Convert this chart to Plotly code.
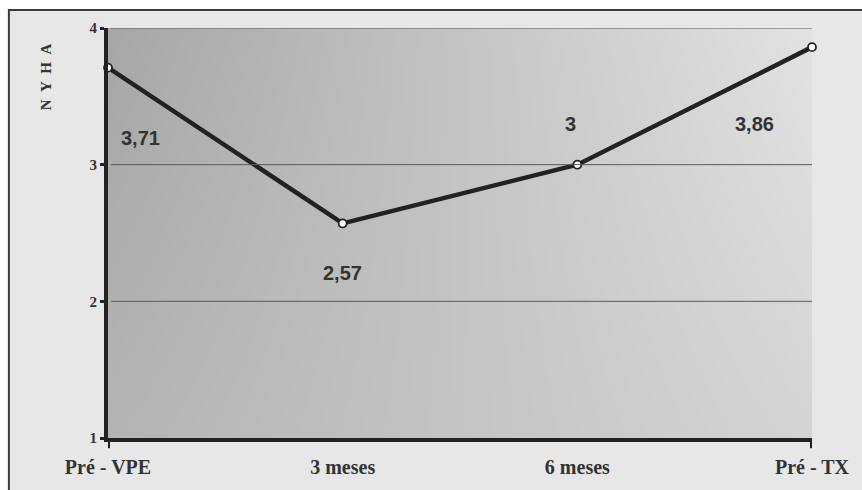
import plotly.graph_objects as go

categories = ["Pré - VPE", "3 meses", "6 meses", "Pré - TX"]
nyha = [3.71, 2.57, 3.0, 3.86]
value_labels = ["3,71", "2,57", "3", "3,86"]
y_ticks = [1, 2, 3, 4]

# label offsets (pixels) relative to each point
label_dx = [32, 0, -7, -58]
label_dy = [-70, -50, 41, -77]

xpos = list(range(len(categories)))

fig = go.Figure()

# gradient background of the plot area (grey levels at corners)
fig.add_trace(go.Heatmap(
    x=[0, 3], y=[1, 4],
    z=[[180, 212], [166, 226]],
    zmin=0, zmax=255, zsmooth="best",
    colorscale=[[0, "rgb(0,0,0)"], [1, "rgb(255,255,255)"]],
    showscale=False, hoverinfo="skip",
))

fig.add_trace(go.Scatter(
    x=xpos, y=nyha, mode="lines+markers",
    line=dict(color="#222222", width=4.5),
    marker=dict(size=8, color="white", line=dict(color="#222222", width=1.8)),
    cliponaxis=False, hoverinfo="skip",
))

for i, (v, t) in enumerate(zip(nyha, value_labels)):
    fig.add_annotation(
        x=xpos[i], y=v, text="<b>" + t + "</b>", showarrow=False,
        xshift=label_dx[i], yshift=label_dy[i],
        font=dict(family="Liberation Sans, Arial", size=20, color="#333333"),
    )

# y title
fig.add_annotation(
    xref="paper", yref="paper", x=-0.0887, y=0.881, xanchor="center", yanchor="middle",
    text="<b>N\u2002Y\u2002H\u2002A</b>", textangle=-90, showarrow=False,
    font=dict(family="Liberation Serif", size=15, color="#333333"),
)

shapes = [
    # framed panel
    dict(type="rect", xref="paper", yref="paper", x0=-0.1408, x1=1.08, y0=-0.14, y1=1.0437,
         line=dict(color="#3a3a3a", width=2), fillcolor="#e7e7e7", layer="below"),
    # x-axis end ticks
    dict(type="line", xref="x", yref="paper", x0=0, x1=0, y0=0, y1=-0.025,
         line=dict(color="#222222", width=4)),
    dict(type="line", xref="x", yref="paper", x0=3, x1=3, y0=0, y1=-0.025,
         line=dict(color="#222222", width=4)),
]
# horizontal gridlines drawn over the gradient
for t in y_ticks[1:]:
    shapes.append(dict(type="line", xref="paper", yref="y", x0=0.004, x1=1, y0=t, y1=t,
                       line=dict(color="#5a5a5a", width=1), layer="above"))

fig.update_layout(
    width=862, height=490,
    margin=dict(l=108, r=44, t=28, b=50),
    paper_bgcolor="white", plot_bgcolor="rgba(0,0,0,0)",
    showlegend=False, shapes=shapes,
    xaxis=dict(
        range=[0, 3], tickvals=xpos, ticktext=["<b>" + c + "</b>" for c in categories],
        showgrid=False, zeroline=False, ticks="",
        showline=True, linecolor="#222222", linewidth=4,
        tickfont=dict(family="Liberation Serif", size=20, color="#333333"),
        ticklabelstandoff=8,
    ),
    yaxis=dict(
        range=[1, 4], tickvals=y_ticks, ticktext=["<b>" + str(t) + "</b>" for t in y_ticks],
        showgrid=False, zeroline=False,
        showline=True, linecolor="#222222", linewidth=4,
        ticks="outside", ticklen=4, tickwidth=3, tickcolor="#222222",
        tickfont=dict(family="Liberation Serif", size=15, color="#333333"),
    ),
)

fig.write_html("out.html")
